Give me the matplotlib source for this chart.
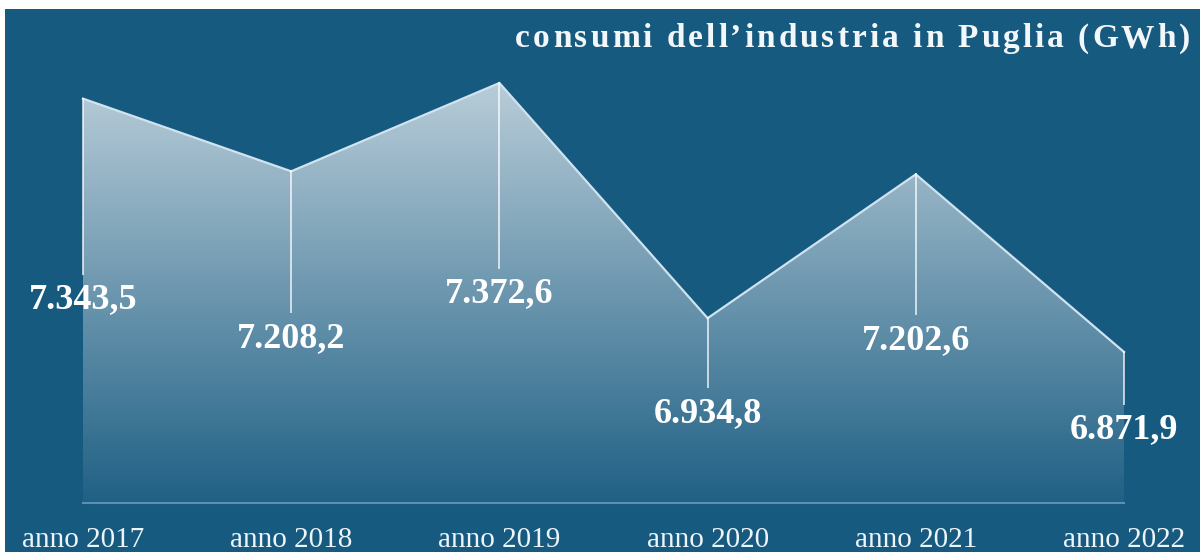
import numpy as np
import matplotlib
matplotlib.use('Agg')
import matplotlib.pyplot as plt
from matplotlib.patches import Rectangle
from matplotlib import font_manager
from matplotlib.ft2font import FT2Font

# consumi elettrici del settore industriale, Puglia (GWh)
anni = ['anno 2017', 'anno 2018', 'anno 2019', 'anno 2020', 'anno 2021', 'anno 2022']
consumi = [7343.5, 7208.2, 7372.6, 6934.8, 7202.6, 6871.9]
etichette = ['7.343,5', '7.208,2', '7.372,6', '6.934,8', '7.202,6', '6.871,9']
titolo = 'consumi dell\u2019industria in Puglia (GWh)'

W, H, DPI = 1200, 552, 100
BG = '#175a80'
SERIF = 'Liberation Serif'

# quanto scende ogni etichetta sotto il suo punto (pixel)
discesa = [201, 167, 211, 95, 166, 78]
y_min, y_max = 6499.6, 7527.1
base = 6590

fig = plt.figure(figsize=(W / DPI, H / DPI), dpi=DPI, facecolor='white')
fig.patches.append(Rectangle((5 / W, 0), 1, 1 - 9 / H, transform=fig.transFigure,
                             facecolor=BG, edgecolor='none', zorder=-10))

ax = fig.add_axes([0, 0, 1, 1])
ax.set_xlim(-0.3987, 5.365)
ax.set_ylim(y_min, y_max)
ax.axis('off')
ax.patch.set_alpha(0)
ax.set_zorder(1)

x = np.arange(len(consumi))

# area con sfumatura bianca verso il basso
area = ax.fill_between(x, consumi, base, facecolor='none', edgecolor='none')
top = max(consumi)
grad = np.zeros((256, 2, 4))
grad[..., :3] = 1.0
alpha = np.linspace(0.04, 0.70, 256)
grad[..., 3] = alpha[:, None]
img = ax.imshow(grad, extent=[x[0], x[-1], base, top], origin='lower',
                aspect='auto', interpolation='bicubic', zorder=1)
img.set_clip_path(area.get_paths()[0], transform=ax.transData)

# bordo superiore chiaro
ax.plot(x, consumi, color='#cfe3f0', lw=1.6, zorder=3, solid_joinstyle='miter')
# linea di base
ax.plot([x[0], x[-1]], [base, base], color='#5a90b4', lw=1.5, zorder=2)

# linee verticali ed etichette dei valori
px_per_unit = H / (y_max - y_min)
for i, (v, lab, d) in enumerate(zip(consumi, etichette, discesa)):
    y_end = v - (d - 26) / px_per_unit
    ax.plot([i, i], [v, y_end], color='white', lw=1.4, alpha=0.7, zorder=3)
    ax.annotate(lab, (i, v), xytext=(0, -d), textcoords='offset pixels',
                ha='center', va='center', color='white', fontsize=26,
                fontweight='bold', family=SERIF, zorder=5)

for i, a in enumerate(anni):
    ax.annotate(a, (i, base), xytext=(0, -37), textcoords='offset pixels',
                ha='center', va='center', color='#eef4f8', fontsize=21,
                family=SERIF, zorder=5)

# titolo spaziato, allineato a destra
fp = font_manager.FontProperties(family=SERIF, weight='bold', size=24)
ft = FT2Font(font_manager.findfont(fp))
ft.set_size(24, DPI)
adv = [ft.load_char(ord(c)).linearHoriAdvance / 65536 for c in titolo]
track = 3.0
xpos = 1190 - (sum(adv) + track * (len(titolo) - 1))
for c, a in zip(titolo, adv):
    if c != ' ':
        fig.text(xpos / W, 1 - 47 / H, c, ha='left', va='baseline',
                 color='#f2f7fa', fontproperties=fp)
    xpos += a + track

fig.savefig('out.png', dpi=DPI, facecolor='white')
